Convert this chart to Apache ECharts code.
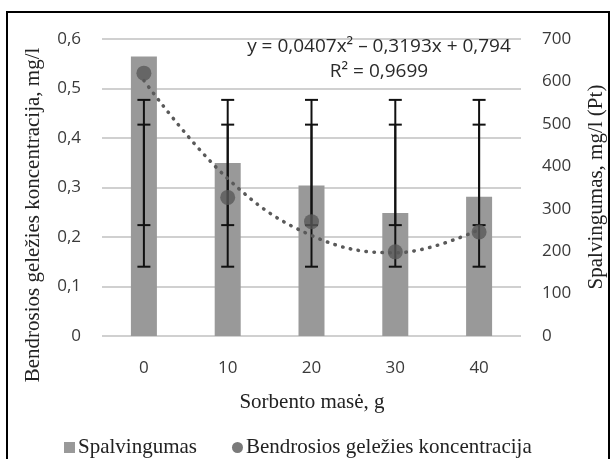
<!DOCTYPE html>
<html><head><meta charset="utf-8">
<script src="https://cdn.jsdelivr.net/npm/echarts@6/dist/echarts.min.js"></script>
<style>html,body{margin:0;padding:0;background:#fff}#c{width:611px;height:459px}</style>
</head><body><div id="c"></div>
<script>
// ---- data ----
const categories = ['0', '10', '20', '30', '40'];
const spalvingumas = [659, 408, 355, 290, 328];          // right axis, mg/l (Pt)
const gelezis = [0.531, 0.280, 0.231, 0.170, 0.210];      // left axis, mg/l
const trend = [0.516, 0.318, 0.203, 0.168, 0.215];        // dotted polynomial trendline
const errTop = [0.477, 0.477, 0.477, 0.477, 0.477];
const errUpper = [0.427, 0.427, 0.427, 0.427, 0.427];
const errLower = [0.224, 0.224, 0.224, 0.224, 0.224];
const errBottom = [0.140, 0.140, 0.140, 0.140, 0.140];
const leftTicks = { min: 0, max: 0.6, interval: 0.1 };
const rightTicks = { min: 0, max: 700, interval: 100 };
const equationText = 'y = 0,0407x\u00B2 \u2013 0,3193x + 0,794';
const r2Text = 'R\u00B2 = 0,9699';
const nameBar = 'Spalvingumas';
const namePts = 'Bendrosios gele\u017Eies koncentracija';

const chart = echarts.init(document.getElementById('c'), null, { renderer: 'canvas' });

function errRender(params, api) {
  const x = api.value(0);
  const lo = api.coord([x, api.value(1)]);
  const hi = api.coord([x, api.value(2)]);
  const half = 6.5;
  const st = { stroke: '#111', lineWidth: 2 };
  return {
    type: 'group',
    children: [
      { type: 'line', shape: { x1: hi[0], y1: hi[1], x2: lo[0], y2: lo[1] }, style: st },
      { type: 'line', shape: { x1: hi[0] - half, y1: hi[1], x2: hi[0] + half, y2: hi[1] }, style: st },
      { type: 'line', shape: { x1: lo[0] - half, y1: lo[1], x2: lo[0] + half, y2: lo[1] }, style: st }
    ]
  };
}

const sansLabel = { fontFamily: 'Open Sans', fontSize: 17, color: '#3a3a3a' };
const serif = 'Liberation Serif';

chart.setOption({
  animation: false,
  backgroundColor: '#fff',
  grid: { left: 102, right: 90, top: 39, bottom: 123 },
  legend: {
    data: [{ name: nameBar, icon: 'rect' }, { name: namePts, icon: 'circle' }],
    left: 59, top: 432,
    itemWidth: 11, itemHeight: 11, itemGap: 35,
    textStyle: { fontFamily: serif, fontSize: 21, color: '#222', padding: [0, 0, 0, -2] }
  },
  xAxis: {
    type: 'category', data: categories,
    axisLine: { show: false }, axisTick: { show: false },
    axisLabel: Object.assign({ margin: 24 }, sansLabel)
  },
  yAxis: [
    {
      type: 'value', min: leftTicks.min, max: leftTicks.max, interval: leftTicks.interval,
      axisLine: { show: false }, axisTick: { show: false },
      axisLabel: Object.assign({ margin: 21, formatter: v => (v === 0 ? '0' : v.toFixed(1).replace('.', ',')) }, sansLabel),
      splitLine: { lineStyle: { color: '#d0d0d0', width: 2 } }
    },
    {
      type: 'value', min: rightTicks.min, max: rightTicks.max, interval: rightTicks.interval,
      axisLine: { show: false }, axisTick: { show: false },
      axisLabel: Object.assign({ margin: 21 }, sansLabel),
      splitLine: { show: false }
    }
  ],
  series: [
    {
      name: nameBar, type: 'bar', yAxisIndex: 1, data: spalvingumas,
      barWidth: 26, itemStyle: { color: '#999999' }, z: 2
    },
    {
      name: 'err1', type: 'custom', yAxisIndex: 0, renderItem: errRender,
      data: categories.map((c, i) => [i, errBottom[i], errTop[i]]),
      encode: { x: 0, y: [1, 2] }, z: 3, silent: true
    },
    {
      name: 'err2', type: 'custom', yAxisIndex: 0, renderItem: errRender,
      data: categories.map((c, i) => [i, errLower[i], errUpper[i]]),
      encode: { x: 0, y: [1, 2] }, z: 3, silent: true
    },
    {
      name: 'trend', type: 'line', yAxisIndex: 0, data: trend, smooth: 0.4,
      symbol: 'none',
      lineStyle: { color: '#5a5a5a', width: 3.5, type: [0.5, 7.5], cap: 'round' }, z: 4
    },
    {
      name: namePts, type: 'scatter', yAxisIndex: 0, data: gelezis,
      symbolSize: 15, itemStyle: { color: '#595959' }, z: 5
    }
  ],
  graphic: [
    { type: 'rect', shape: { x: 7, y: 12, width: 602, height: 470 }, style: { fill: 'none', stroke: '#000', lineWidth: 2 }, z: 100 },
    { type: 'text', x: 33, y: 215, rotation: Math.PI / 2,
      style: { text: 'Bendrosios gele\u017Eies koncentracija, mg/l', font: '21px "Liberation Serif"', fill: '#222', textAlign: 'center', textVerticalAlign: 'middle' } },
    { type: 'text', x: 596, y: 187, rotation: Math.PI / 2,
      style: { text: 'Spalvingumas, mg/l (Pt)', font: '21px "Liberation Serif"', fill: '#222', textAlign: 'center', textVerticalAlign: 'middle' } },
    { type: 'text', x: 312, y: 402,
      style: { text: 'Sorbento mas\u0117, g', font: '21px "Liberation Serif"', fill: '#222', textAlign: 'center', textVerticalAlign: 'middle' } },
    { type: 'text', x: 379, y: 47, z: 50,
      style: { text: equationText, font: '19px "Open Sans"', fill: '#2a2a2a', textAlign: 'center', textVerticalAlign: 'middle' } },
    { type: 'text', x: 379, y: 72, z: 50,
      style: { text: r2Text, font: '19px "Open Sans"', fill: '#2a2a2a', textAlign: 'center', textVerticalAlign: 'middle' } }
  ]
});
</script></body></html>
